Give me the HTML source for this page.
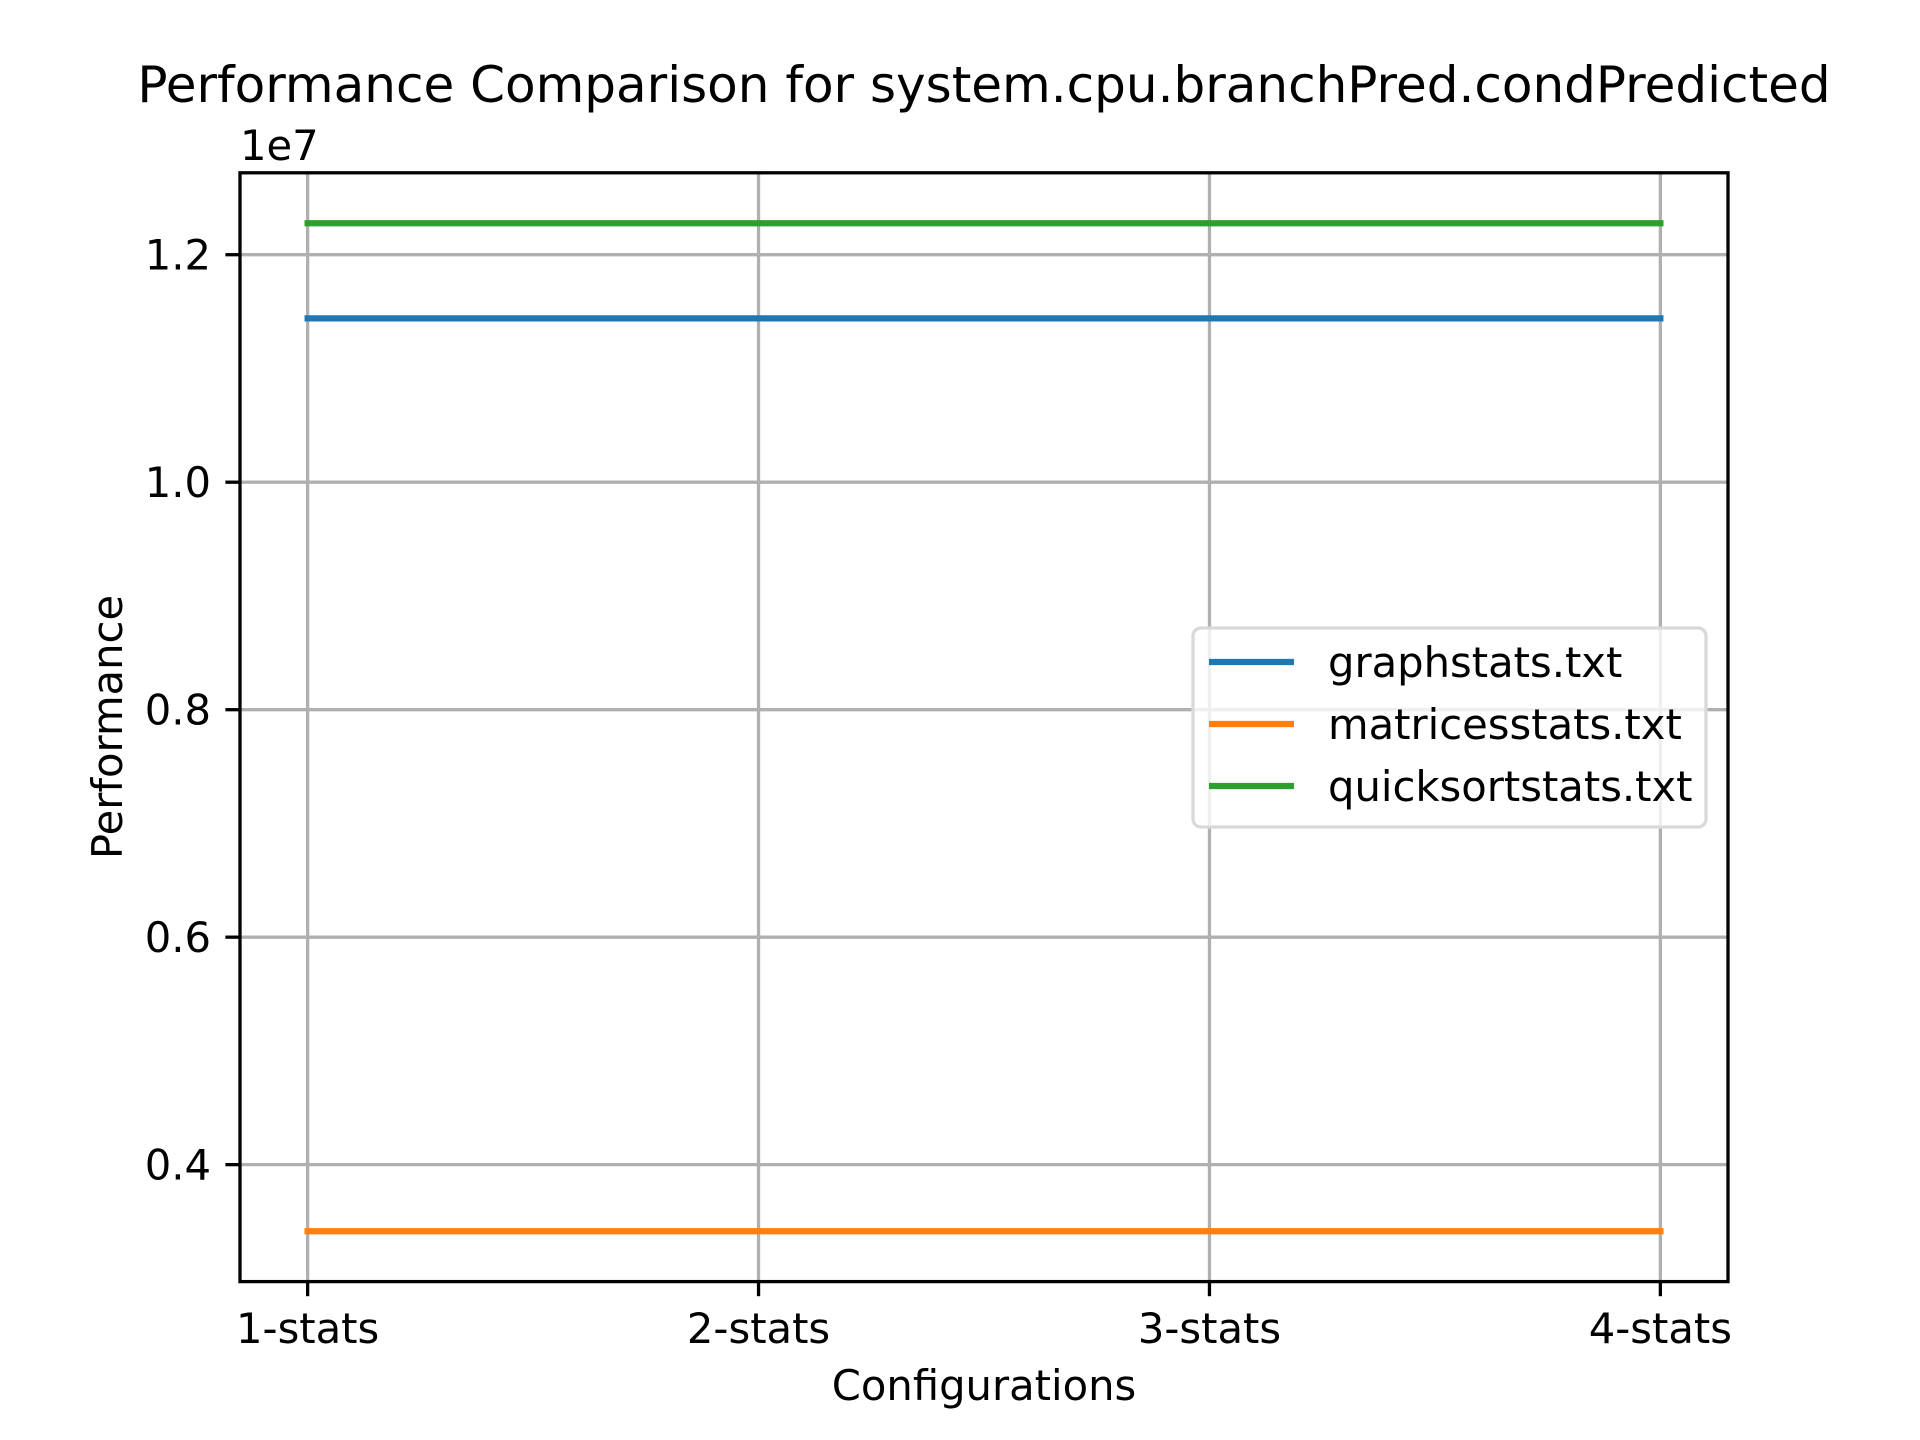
<!DOCTYPE html>
<html><head><meta charset="utf-8"><style>
html,body{margin:0;padding:0;background:#fff;}
svg{display:block;font-family:"DejaVu Sans","Liberation Sans",sans-serif;}
</style></head><body>
<svg id="chart" width="1920" height="1440" viewBox="0 0 1920 1440">
<rect width="1920" height="1440" fill="#fff"/>
<text x="984" y="102" font-size="50" text-anchor="middle">Performance Comparison for system.cpu.branchPred.condPredicted</text>
<g id="grid"></g>
<g id="series"></g>
<rect x="240" y="172.8" width="1488" height="1108.8" fill="none" stroke="#000" stroke-width="3.3"/>
<g id="ticks"></g>
<text x="240" y="160" font-size="41.7">1e7</text>
<text x="984" y="1400" font-size="41.7" text-anchor="middle">Configurations</text>
<text transform="translate(122,727) rotate(-90)" font-size="41.7" text-anchor="middle">Performance</text>
<g id="legend"></g>
</svg>
<script>
const categories = ["1-stats","2-stats","3-stats","4-stats"];
const seriesNames = ["graphstats.txt","matricesstats.txt","quicksortstats.txt"];
const graphValues = [1.144, 1.144, 1.144, 1.144];
const matricesValues = [0.3415, 0.3415, 0.3415, 0.3415];
const quicksortValues = [1.2277, 1.2277, 1.2277, 1.2277];
const yTicks = [0.4, 0.6, 0.8, 1.0, 1.2];
const yTickLabels = ["0.4","0.6","0.8","1.0","1.2"];

const colors = ["#1f77b4","#ff7f0e","#2ca02c"];
const L=240,R=1728,T=172.8,B=1281.6;
const allVals = graphValues.concat(matricesValues, quicksortValues);
const dmin=Math.min(...allVals), dmax=Math.max(...allVals), dr=dmax-dmin;
const y0=dmin-0.05*dr, y1=dmax+0.05*dr;
const n=categories.length, xm=0.05*(n-1);
const xs=i=>L+(i+xm)/((n-1)+2*xm)*(R-L);
const ys=v=>B-(v-y0)/(y1-y0)*(B-T);
const NS="http://www.w3.org/2000/svg";
function mk(tag,attrs,parent){const e=document.createElementNS(NS,tag);for(const k in attrs)e.setAttribute(k,attrs[k]);parent.appendChild(e);return e;}
const grid=document.getElementById('grid'), ticks=document.getElementById('ticks'), ser=document.getElementById('series'), leg=document.getElementById('legend');
categories.forEach((c,i)=>{
  const x=xs(i);
  const g=mk('line',{x1:x,x2:x,y1:T,y2:B,stroke:'#b0b0b0','stroke-width':3.3},grid);
  
  
  const t=mk('line',{x1:x,x2:x,y1:B,y2:B+14.6,stroke:'#000','stroke-width':3.3},ticks);
  
  
  const lb=mk('text',{x:x,y:1343,'font-size':41.7,'text-anchor':'middle'},ticks);
  lb.textContent=c;
  
  
});
yTicks.forEach((v,i)=>{
  const y=ys(v);
  const g=mk('line',{x1:L,x2:R,y1:y,y2:y,stroke:'#b0b0b0','stroke-width':3.3},grid);
  
  
  const t=mk('line',{x1:L-14.6,x2:L,y1:y,y2:y,stroke:'#000','stroke-width':3.3},ticks);
  
  
  const lb=mk('text',{x:L-29,y:y+15,'font-size':41.7,'text-anchor':'end'},ticks);
  lb.textContent=yTickLabels[i];
  
  
});
[graphValues,matricesValues,quicksortValues].forEach((vals,s)=>{
  const p=mk('polyline',{points:vals.map((v,i)=>xs(i)+','+ys(v)).join(' '),fill:'none',stroke:colors[s],'stroke-width':6.25,'stroke-linecap':'square'},ser);
  
  
});
const lb=mk('rect',{x:1193,y:628,width:513,height:199,rx:8,fill:'#fff','fill-opacity':0.8,stroke:'#d9d9d9','stroke-width':3.3},leg);


seriesNames.forEach((nm,s)=>{
  const y=662+s*62;
  const l=mk('line',{x1:1209,x2:1294,y1:y,y2:y,stroke:colors[s],'stroke-width':6.25},leg);
  
  
  const t=mk('text',{x:1328,y:y+15,'font-size':41.7},leg);
  t.textContent=nm;
  
  
});
</script>
</body></html>
